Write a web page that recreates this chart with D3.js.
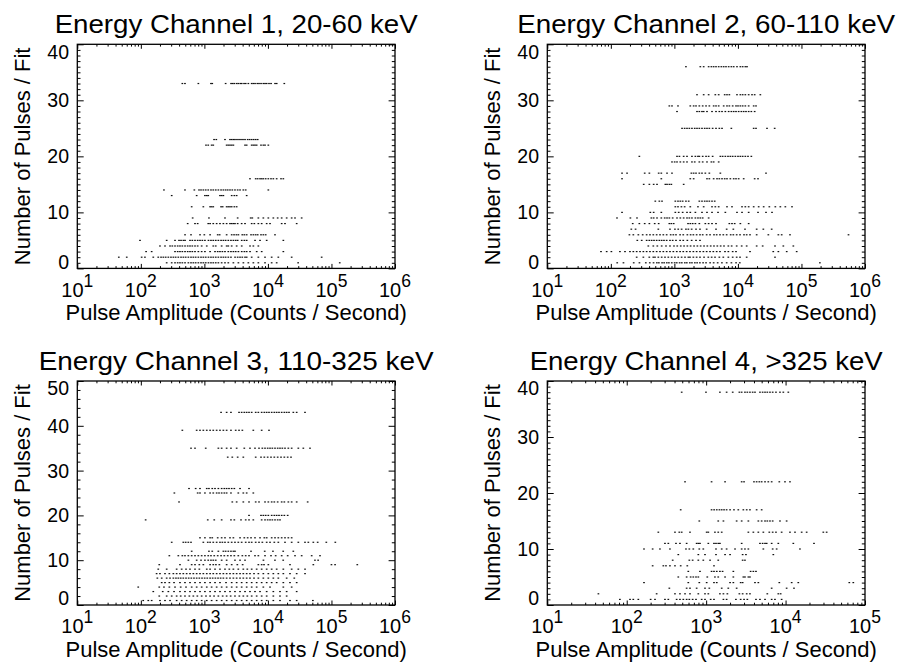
<!DOCTYPE html>
<html>
<head>
<meta charset="utf-8">
<script src="https://cdn.jsdelivr.net/npm/d3@7"></script>
<style>
    body { margin: 0; background: #fff; }
    svg { display: block; }
    text { font-family: "Liberation Sans", Arial, Helvetica, sans-serif; fill: #000; }
</style>
</head>
<body>
<svg id="chart" width="901" height="662"></svg>
<script>
// Each row: [number of pulses per fit, [pulse amplitudes in counts / second]]
const ch1Rows = [
    [33, [450, 495, 804, 1270, 1330, 2160, 2630, 2790, 2960, 3220, 3420, 3680, 3870, 4210, 4470, 4920, 5550, 5890, 6270, 6810, 7240, 7790, 8470, 9000, 9560, 10400, 11200, 12950, 13740, 18100]],
    [23, [1420, 1540, 2110, 2530, 2690, 2860, 3030, 3260, 3510, 3770, 4050, 4360, 4800, 5160, 5550, 5970, 6420, 6900]],
    [22, [1060, 1150, 1300, 1380, 2240, 2380, 2530, 2690, 2860, 4360, 4630, 5550, 5900, 6260, 6650, 7780, 8470, 9000, 10150]],
    [16, [5220, 6420, 6900, 7510, 7970, 8470, 9220, 10150, 11180, 12170, 13730, 16070, 17480]],
    [14, [231, 495, 695, 823, 885, 963, 1050, 1150, 1270, 1380, 1510, 1660, 1830, 1990, 2160, 2330, 2530, 2750, 3030, 3340, 3640, 4100, 4470, 10150]],
    [13, [306, 756, 1020, 1090, 1150, 1760, 1870, 1990, 2690, 2960, 3220, 4630]],
    [11, [631, 963, 1230, 1300, 1380, 1830, 1940, 2240, 2380, 2530, 2690, 2960, 3220]],
    [9, [654, 1180, 2110, 3340, 5350, 5680, 7070, 8470, 10150, 12170, 14240, 16460, 19730, 23640, 26690, 33970]],
    [8, [546, 712, 784, 1150, 1230, 1380, 1560, 1760, 1990, 2240, 2530, 2690, 2860, 3030, 3340, 3860, 4360, 5550, 6110, 7070, 7970, 9560, 10790, 16460, 18570, 28350]],
    [6, [496, 616, 854, 998, 1230, 1620, 1740, 2240, 2690, 2930, 3190, 3430, 3950, 4260, 4630, 5420, 5900, 6410, 6900, 7780, 8470, 9220, 12920]],
    [5, [97, 255, 345, 399, 429, 467, 496, 594, 646, 712, 784, 854, 929, 1020, 1160, 1270, 1380, 1510, 1660, 1830, 1990, 2160, 2380, 2620, 2860, 3110, 3340, 3870, 4260, 4630, 6270, 7510, 9560, 17490]],
    [4, [200, 240, 288, 313, 345, 380, 413, 450, 496, 546, 594, 646, 712, 784, 906, 1090, 1380, 1510, 1870, 2240, 2380, 2690, 3220, 3870, 5230, 5900, 7070]],
    [3, [121, 148, 345, 380, 413, 450, 496, 546, 594, 646, 712, 804, 906, 1020, 1230, 1470, 1620, 1760, 1920, 2110, 2380, 2620, 2860, 3110, 3430, 3870, 4260, 4630, 5230, 6660, 7980, 17490]],
    [2, [45, 60, 103, 116, 157, 188, 208, 226, 246, 271, 298, 325, 353, 389, 429, 467, 508, 560, 616, 670, 729, 804, 885, 963, 1050, 1160, 1270, 1380, 1510, 1660, 1830, 1990, 2160, 2380, 2620, 3040, 3340, 3640, 3950, 4360, 4630, 5550, 7070, 9000, 11450, 14580, 23640, 70100]],
    [1, [255, 306, 345, 380, 413, 450, 496, 560, 616, 670, 729, 804, 885, 963, 1050, 1160, 1270, 1380, 1510, 1660, 1870, 2110, 2380, 2860, 3430, 4110, 4920, 5900, 7070, 9000, 11450, 13730, 29900, 135000]]
];

const ch2Rows = [
    [36, [1520, 2560, 2890, 3460, 3820, 4150, 4520, 4980, 5480, 5970, 6490, 7150, 7880, 8580, 9670, 10920, 11880, 13080, 13900]],
    [31, [2270, 2890, 3460, 4410, 4980, 6190, 6730, 7330, 9670, 10920, 11880, 13080, 14760, 16660, 18340, 22530]],
    [29, [833, 917, 1140, 1780, 2010, 2190, 2470, 2790, 3150, 3550, 4150, 4520, 4980, 5970, 6730, 7330, 8270, 9330, 10030, 10920, 11880, 13080, 14760, 17700, 19260]],
    [28, [1100, 2270, 2470, 2720, 2890, 3260, 3910, 4520, 5100, 5620, 6340, 7150, 7880, 8580, 9330, 10270, 11320, 12320, 13400, 14760, 16260, 18340]],
    [25, [1320, 1450, 1580, 1720, 1890, 2090, 2270, 2470, 2720, 3000, 3260, 3550, 4000, 4520, 5100, 5620, 7880, 17700, 19260, 28690, 37880]],
    [20, [281, 1100, 1200, 1400, 1580, 1890, 2140, 2350, 2470, 2790, 3150, 3460, 4000, 5290, 5750, 6340, 6980, 7600, 8270, 9110, 10030, 10920, 11880, 13080, 14410, 16260]],
    [19, [917, 1010, 1100, 1240, 1400, 1580, 1890, 2090, 2470, 2790, 3260, 3820, 4150, 4980]],
    [17, [150, 180, 341, 404, 566, 623, 766, 917, 1850, 2010, 2190, 2470, 2720, 3070, 3550, 5290, 27670]],
    [16, [150, 623, 1780, 2010, 3260, 3550, 4150, 4690, 5100, 5620, 6190, 6730, 7600, 8580, 9330, 10270, 12320, 18340, 20710]],
    [15, [329, 404, 472, 533, 721, 766, 833, 896, 1400]],
    [12, [501, 580, 639, 1035, 1140, 1240, 1350, 1520, 1680, 2470, 2720, 3000, 3260, 3550, 3910, 4310]],
    [11, [1035, 1140, 1290, 1450, 1780, 2350, 2890, 3910, 4410, 4980, 6730, 8070, 11600, 13080, 14760, 17700, 21210, 25420, 31220, 38800, 46520, 55760, 71000]],
    [10, [150, 418, 472, 623, 1035, 1170, 1350, 1580, 1780, 2140, 2720, 3260, 3910, 4860, 6340, 9670, 11600, 14760, 20710, 27670, 34400]],
    [9, [125, 203, 258, 434, 472, 533, 623, 704, 766, 833, 940, 1100, 1240, 1400, 1580, 1720, 1890, 2140, 2350, 2560, 2790, 3460]],
    [8, [221, 281, 341, 404, 490, 566, 833, 896, 975, 1640, 1780, 1940, 2140, 2470, 3070, 3460, 3910, 4520, 7330, 8070, 8890, 10920, 14760]],
    [7, [210, 245, 559, 853, 1020, 1150, 1300, 1520, 1660, 1870, 2190, 2530, 3220, 4520, 6650, 8470, 12920, 19720, 25120, 33970]],
    [6, [196, 226, 271, 317, 366, 413, 466, 526, 594, 670, 756, 874, 963, 1060, 1230, 1380, 1600, 1800, 1990, 2240, 2530, 2790, 3220, 3640, 4200, 4630, 5220, 5890, 6650, 7690, 8470, 9560, 10790, 12460, 13730, 15490, 19720, 30110, 43300, 48820, 66000, 550000]],
    [5, [261, 306, 366, 403, 439, 478, 526, 580, 631, 686, 756, 853, 940, 1060, 1230, 1380, 1600, 1870, 2190, 2530]],
    [4, [389, 466, 539, 631, 738, 853, 986, 1110, 1260, 1420, 1600, 1800, 2040, 2300, 2590, 2930, 3300, 3730, 4200, 4740, 5350, 6040, 7070, 7970, 9560, 11460, 13730, 19720, 24520, 38340, 51840, 74500]],
    [3, [70, 86, 102, 139, 167, 200, 226, 255, 288, 325, 366, 413, 466, 526, 594, 670, 756, 853, 963, 1090, 1230, 1380, 1560, 1760, 1990, 2240, 2530, 2860, 3220, 3640, 4100, 4630, 5220, 6260, 7070, 8270, 9330, 15500, 36000, 43300, 58600, 84100]],
    [2, [255, 325, 403, 466, 495, 559, 631, 712, 803, 906, 1020, 1150, 1300, 1470, 1660, 1760, 1990, 2240, 2530, 2930, 3420, 3860, 4360, 5100, 5890, 7070, 8270, 9560, 10790, 13730, 38340]],
    [1, [126, 158, 229, 282, 355, 410, 470, 530, 570, 640, 690, 760, 820, 910, 1010, 1090, 1210, 1310, 1460, 1570, 1750, 1890, 2100, 2280, 2520, 2830, 3150, 3650, 4150, 4800, 5600, 6650, 7900, 9350, 10700, 195000]]
];

const ch3Rows = [
    [43, [1830, 2240, 2620, 3510, 3860, 4250, 4630, 5040, 5550, 6420, 7070, 7970, 8780, 9560, 10400, 11460, 12610, 13730, 14940, 16460, 18130, 19720, 21470, 25120, 28350, 38330]],
    [39, [450, 756, 853, 963, 1090, 1230, 1380, 1560, 1760, 1990, 2240, 2620, 3110, 3510, 3960, 5890, 7970, 10400]],
    [35, [616, 712, 1050, 1660, 1870, 2240, 2620, 3220, 4250, 5220, 6260, 7240, 8170, 9000, 9910, 10790, 11740, 12930, 14240, 15490, 16860, 18570, 20960, 23640, 30100, 36080, 45950]],
    [33, [2330, 2750, 3340, 4100, 6420, 7780, 8780, 9910, 11180, 12610, 14240, 16070, 18130, 20460, 23080]],
    [26, [573, 729, 853, 1090, 1180, 1330, 1470, 1660, 1870, 2060, 2240, 2440, 2690, 2960, 3640, 5040]],
    [25, [337, 784, 853, 1020, 1230, 1380, 1560, 1700, 1870, 2060, 2240, 2620, 3420, 4100, 4630, 5890]],
    [23, [399, 2750, 3220, 4100, 5040, 6420, 7240, 9000, 10150, 11460, 12610, 14240, 16460, 18130, 20960, 23640, 28350, 42220]],
    [20, [5040, 7780, 8470, 9220, 10150, 11460, 12610, 13730, 14940, 16460, 18130, 20460]],
    [19, [119, 1130, 1430, 1870, 2620, 2960, 3770, 4470, 5040, 5890, 7970, 9000, 9910, 10790, 11740, 12930, 14240, 15490]],
    [15, [853, 1020, 1230, 1330, 1620, 1870, 2110, 2530, 2860, 3640, 4250, 4800, 5420, 6260, 7510, 8780, 9560, 11460, 12930, 14580, 16460, 18570, 20960, 23640]],
    [14, [306, 466, 508, 559, 616, 963, 1130, 1230, 1380, 1560, 1760, 1920, 2110, 2380, 2690, 3030, 3420, 3860, 4470, 5040, 5550, 6420, 7240, 8170, 9560, 10790, 12610, 14580, 18570, 23640, 30100, 38330, 43250, 51840, 60660, 83000, 115000]],
    [12, [631, 1180, 1330, 1660, 1990, 2160, 2380, 2620, 2860, 3030, 5420, 8900, 12000, 17400, 25100]],
    [11, [281, 389, 450, 495, 559, 631, 712, 803, 906, 1020, 1150, 1270, 1430, 1620, 1830, 2060, 2330, 2620, 2960, 3420, 3960, 4470, 5040, 6260, 7070, 9000, 11180, 13240, 16460, 20460, 26690, 33970, 48820, 66030]],
    [10, [560, 756, 885, 1020, 1150, 1270, 1380, 1510, 1870, 2240, 3030, 3640, 4360, 8500, 12900, 17400, 55000, 61700]],
    [9, [195, 413, 631, 712, 833, 963, 1230, 1380, 1520, 1720, 2240, 2690, 3300, 4000, 7070, 7970, 8680, 10150, 22250, 51840, 100000, 114000, 255000]],
    [8, [188, 255, 366, 439, 514, 594, 712, 833, 1090, 1230, 1470, 1760, 2110, 2470, 2860, 3420, 4100, 4740, 5550, 6650, 7970, 9560, 11450, 13730, 17480, 23640, 30100, 38380]],
    [7, [177, 200, 240, 281, 325, 366, 413, 466, 526, 594, 670, 756, 853, 963, 1090, 1230, 1380, 1560, 1760, 1990, 2240, 2530, 2860, 3220, 3640, 4100, 4630, 5220, 6040, 7070, 8470, 10150, 12170, 14580, 17480, 22250, 28350, 38380]],
    [6, [182, 213, 255, 288, 325, 357, 389, 424, 466, 514, 566, 623, 686, 756, 833, 918, 1010, 1110, 1230, 1350, 1490, 1640, 1800, 1990, 2240, 2530, 2860, 3220, 3640, 4100, 4630, 5220, 6040, 7070, 8470, 10150, 12170, 14580, 19720, 26000]],
    [5, [213, 240, 281, 333, 413, 495, 594, 712, 853, 1020, 1230, 1470, 1760, 2190, 2690, 3220, 3860, 4630, 5550, 6650, 7970, 9560, 11450, 13730, 17480, 22250, 28350]],
    [4, [91, 195, 231, 281, 345, 424, 514, 631, 756, 906, 1090, 1300, 1560, 1870, 2240, 2690, 3220, 3860, 4630, 5550, 6650, 8470, 10790, 17480, 23640]],
    [3, [157, 221, 271, 333, 413, 495, 594, 712, 853, 1020, 1230, 1470, 1760, 2110, 2530, 3030, 3640, 4360, 5220, 6260, 7510, 9560, 12170, 15490, 19720, 28350]],
    [2, [195, 255, 306, 366, 424, 495, 580, 670, 775, 906, 1060, 1230, 1420, 1660, 1940, 2240, 2590, 3030, 3550, 4100, 4740, 5550, 6650, 7970, 9560, 12170, 15490, 19720]],
    [1, [109, 131, 148, 200, 240, 288, 366, 439, 526, 631, 756, 906, 1090, 1300, 1560, 1870, 2240, 2690, 3220, 3860, 4630, 5550, 6650, 7970, 9560, 12170, 15490, 22250, 28350, 51000]]
];

const ch4Rows = [
    [38, [492, 995, 1490, 1810, 2160, 2620, 2800, 3080, 3300, 3560, 3850, 4120, 4760, 5140, 5510, 5890, 6360, 6880, 7570, 8500, 9370, 10830]],
    [22, [542, 1170, 1730, 2800, 3000, 4000, 4320, 4670, 5000, 5510, 6060, 6680, 8340, 9830, 11360]],
    [17, [478, 1170, 1260, 1360, 1470, 1570, 1680, 1810, 2000, 2240, 2540, 2940, 3240, 3560, 4320, 5000]],
    [15, [820, 1420, 1650, 2420, 2800, 3400, 4540, 5000, 5510, 5890, 6360, 6880, 8500, 10310]],
    [13, [250, 405, 459, 492, 626, 1015, 1065, 1290, 1420, 1570, 3400, 3930, 4540, 5250, 6240, 6880, 7570, 8920, 11360, 13140, 15940, 18420, 29870, 32890]],
    [11, [303, 334, 417, 468, 568, 759, 797, 836, 1065, 1255, 1330, 1420, 1490, 2800, 4760, 5140, 5510, 5780, 6680, 8100, 12520, 22790]],
    [10, [165, 212, 262, 350, 557, 614, 689, 820, 921, 1330, 1570, 1810, 2310, 2800, 3080, 3400, 5250, 6880, 7720, 15170]],
    [9, [446, 797, 967, 1330, 1730, 2000, 2880, 3170, 7010]],
    [8, [379, 614, 676, 797, 921, 1120, 1420, 2880, 3080]],
    [7, [212, 289, 312, 350, 405, 478, 579, 1255]],
    [6, [596, 836, 1170, 1255, 1360, 1490, 1610, 2200, 3630, 3930, 4240]],
    [5, [446, 568, 638, 689, 745, 797, 1034, 1290, 1420, 1730, 2200, 2940, 3080, 3400, 3560]],
    [4, [165, 596, 820, 1015, 1255, 1360, 2000, 2200, 2720, 2880, 4120, 4540, 8340, 11930, 14460, 63450, 71240]],
    [3, [344, 568, 626, 759, 967, 1096, 1570, 1900, 2420, 6680, 10310, 12760]],
    [2, [44, 238, 405, 468, 542, 626, 797, 967, 1065, 1490, 1650, 1850, 2620, 2880, 3240, 3560, 5890, 8100, 8670]],
    [1, [82, 110, 121, 140, 200, 227, 303, 334, 425, 468, 516, 568, 614, 676, 745, 878, 967, 1140, 1255, 1650, 1810, 2370, 2720, 3000, 3300, 4240, 4760, 5510, 6680, 7350, 8920]]
];

const panelTitles = [
    'Energy Channel 1, 20-60 keV',
    'Energy Channel 2, 60-110 keV',
    'Energy Channel 3, 110-325 keV',
    'Energy Channel 4, >325 keV'
];
const xDomains = [[10, 1e6], [10, 1e6], [10, 1e6], [10, 1e5]];
const yMaxima = [40, 40, 50, 40];
const xAxisTitle = 'Pulse Amplitude (Counts / Second)';
const yAxisTitle = 'Number of Pulses / Fit';

// Panel frames (pixels) and measured title widths
const frames = [
    { left: 77.3, top: 44.3, width: 317.7, height: 224.1, titleWidth: 363 },
    { left: 547.3, top: 44.3, width: 317.7, height: 224.1, titleWidth: 378 },
    { left: 77.3, top: 381, width: 317.7, height: 224, titleWidth: 395 },
    { left: 547.3, top: 381, width: 317.7, height: 224, titleWidth: 353 }
];

const svg = d3.select('#chart');
svg.append('rect').attr('width', 901).attr('height', 662).attr('fill', '#fff');

const rowsByPanel = [ch1Rows, ch2Rows, ch3Rows, ch4Rows];
frames.forEach((f, i) => {
    drawPanel(svg, {
        frame: f,
        rows: rowsByPanel[i],
        title: panelTitles[i],
        xDomain: xDomains[i],
        yMax: yMaxima[i]
    });
});

/**
 * Draws one scatter panel: dots, IDL-style inward ticks on all four sides, labels
 */
function drawPanel(svg, p) {
    const f = p.frame;
    const bottom = f.top + f.height;
    const right = f.left + f.width;

    const x = d3.scaleLog().domain(p.xDomain).range([f.left, right]);
    const y = d3.scaleLinear().domain([0, p.yMax]).range([bottom, f.top]);

    const g = svg.append('g');

    // Dots
    const points = p.rows.flatMap(([n, amps]) => amps.map(a => ({ n: n, a: a })));
    g.append('g').selectAll('rect')
        .data(points)
        .enter()
        .append('rect')
        .attr('x', d => x(d.a) - 0.85)
        .attr('y', d => y(d.n) - 0.6)
        .attr('width', 1.7)
        .attr('height', 1.2)
        .attr('fill', '#111');

    // Tick values
    const allX = x.ticks();
    const majorX = allX.filter(v => Math.abs(Math.log10(v) - Math.round(Math.log10(v))) < 1e-9);
    const minorX = allX.filter(v => !majorX.includes(v));
    const majorY = y.ticks(p.yMax / 10);
    const minorY = y.ticks(p.yMax === 50 ? 25 : p.yMax).filter(v => !majorY.includes(v));

    const xMajorLen = 4.5, xMinorLen = 2.3, yMajorLen = 6.4, yMinorLen = 3.2;

    function tickGroup(axis, tx, ty) {
        const a = g.append('g')
            .attr('transform', `translate(${tx},${ty})`)
            .call(axis);
        a.select('.domain').remove();
        a.selectAll('line').attr('stroke', '#000').attr('stroke-width', 1);
        a.selectAll('text').remove();
    }

    tickGroup(d3.axisBottom(x).tickValues(majorX).tickSize(-xMajorLen), 0, bottom);
    tickGroup(d3.axisBottom(x).tickValues(minorX).tickSize(-xMinorLen), 0, bottom);
    tickGroup(d3.axisTop(x).tickValues(majorX).tickSize(-xMajorLen), 0, f.top);
    tickGroup(d3.axisTop(x).tickValues(minorX).tickSize(-xMinorLen), 0, f.top);
    tickGroup(d3.axisLeft(y).tickValues(majorY).tickSize(-yMajorLen), f.left, 0);
    tickGroup(d3.axisLeft(y).tickValues(minorY).tickSize(-yMinorLen), f.left, 0);
    tickGroup(d3.axisRight(y).tickValues(majorY).tickSize(-yMajorLen), right, 0);
    tickGroup(d3.axisRight(y).tickValues(minorY).tickSize(-yMinorLen), right, 0);

    // Frame
    g.append('rect')
        .attr('x', f.left)
        .attr('y', f.top)
        .attr('width', f.width)
        .attr('height', f.height)
        .attr('fill', 'none')
        .attr('stroke', '#000')
        .attr('stroke-width', 1.3);

    // X tick labels: 10 with superscript exponent
    const xl = g.selectAll('.xlabel')
        .data(majorX)
        .enter()
        .append('text')
        .attr('class', 'xlabel')
        .attr('x', d => x(d))
        .attr('y', bottom + 28.3)
        .attr('text-anchor', 'middle')
        .attr('font-size', '20px');
    xl.append('tspan').text('10');
    xl.append('tspan')
        .attr('dy', -10)
        .attr('font-size', '17.5px')
        .text(d => Math.round(Math.log10(d)));

    // Y tick labels, end labels pulled inside the frame
    g.selectAll('.ylabel')
        .data(majorY)
        .enter()
        .append('text')
        .attr('class', 'ylabel')
        .attr('x', f.left - 8.3)
        .attr('y', d => Math.min(Math.max(y(d), f.top + 7.4), bottom - 6.6))
        .attr('dy', '0.36em')
        .attr('text-anchor', 'end')
        .attr('font-size', '19.5px')
        .text(d => d);

    // Title
    g.append('text')
        .attr('x', f.left + f.width / 2)
        .attr('y', f.top - 11)
        .attr('text-anchor', 'middle')
        .attr('font-size', '26px')
        .attr('textLength', f.titleWidth)
        .attr('lengthAdjust', 'spacingAndGlyphs')
        .text(p.title);

    // Axis titles
    g.append('text')
        .attr('x', f.left + f.width / 2)
        .attr('y', bottom + 51.6)
        .attr('text-anchor', 'middle')
        .attr('font-size', '22px')
        .text(xAxisTitle);

    g.append('text')
        .attr('transform', `translate(${f.left - 47.3},${f.top + f.height / 2}) rotate(-90)`)
        .attr('text-anchor', 'middle')
        .attr('font-size', '22px')
        .text(yAxisTitle);
}
</script>
</body>
</html>
